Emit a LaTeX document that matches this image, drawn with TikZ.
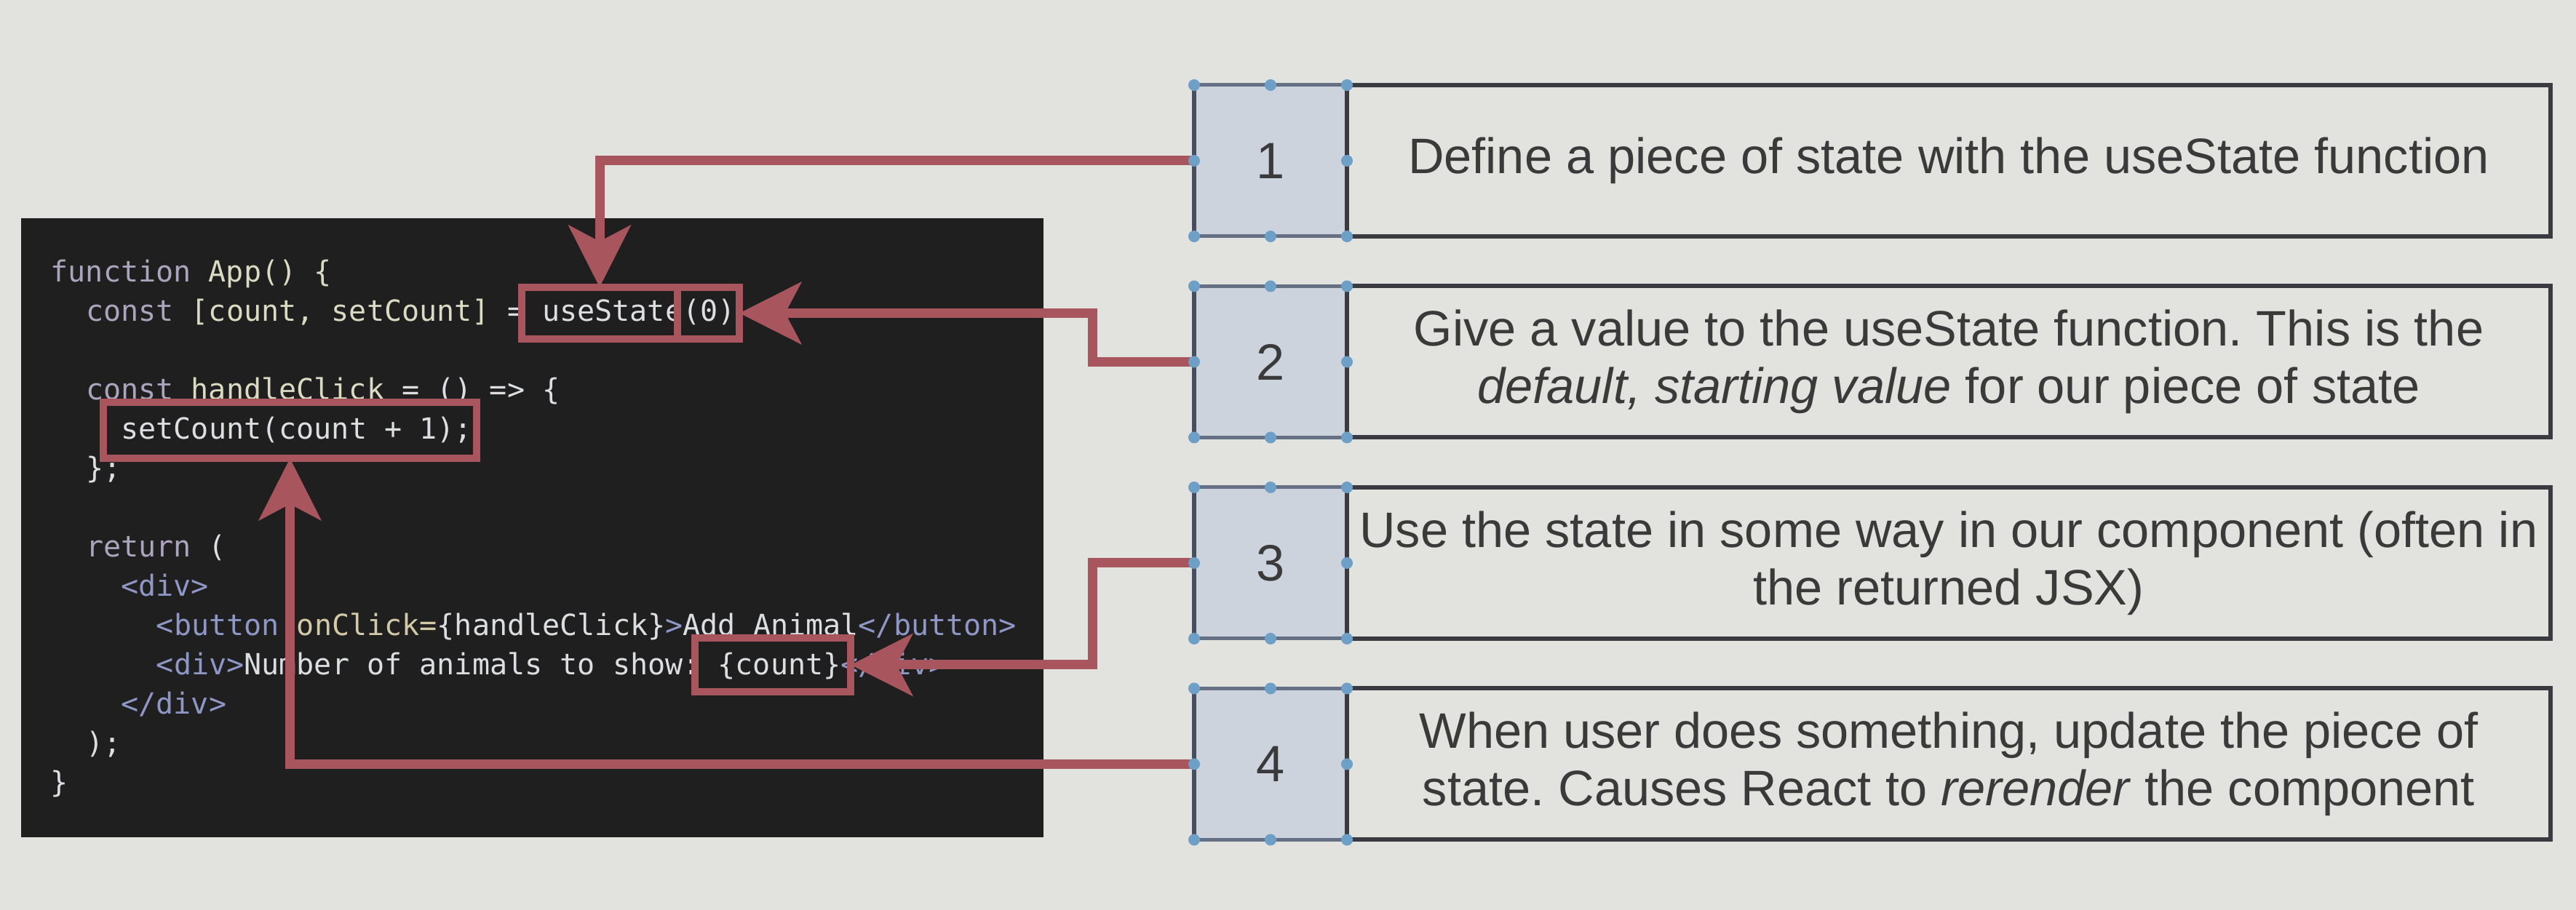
\documentclass[tikz,border=0pt]{standalone}
\usepackage{fontspec}
\setmainfont{Liberation Sans}
\newfontfamily\codefont{DejaVu Sans Mono}
\usetikzlibrary{arrows.meta,positioning}
\frenchspacing

\definecolor{paper}{HTML}{E2E2DF}
\definecolor{codebg}{HTML}{1F1F1F}
\definecolor{hlred}{HTML}{A9555E}
\definecolor{numfill}{HTML}{CDD3DC}
\definecolor{numedge}{HTML}{667085}
\definecolor{handle}{HTML}{6E9FC6}
\definecolor{boxedge}{HTML}{3A3B40}
\definecolor{inktext}{HTML}{3A3A3A}
\definecolor{ckw}{HTML}{ABA4BC}
\definecolor{ctag}{HTML}{8F97C6}
\definecolor{cid}{HTML}{DADBC2}
\definecolor{cplain}{HTML}{DCDEE2}
\definecolor{cattr}{HTML}{D2C9A6}

\newcommand{\kwd}[1]{\textcolor{ckw}{#1}}
\newcommand{\tagc}[1]{\textcolor{ctag}{#1}}
\newcommand{\idc}[1]{\textcolor{cid}{#1}}
\newcommand{\attc}[1]{\textcolor{cattr}{#1}}

\tikzset{
  codeline/.style={anchor=base west, inner sep=0pt, text=cplain,
    font=\codefont\fontsize{11.4}{13}\selectfont},
  hlbox/.style={draw=hlred, line width=0.1cm, inner sep=0pt, outer sep=0pt},
  pointer/.style={draw=hlred, line width=0.13cm,
    -{Stealth[length=0.85cm,width=0.85cm,inset=0.22cm]}},
  numbox/.style={draw=numedge, fill=numfill, line width=0.05cm,
    minimum width=2.1cm, minimum height=2.08cm, inner sep=0pt, outer sep=0pt,
    text=inktext, font=\fontsize{20}{24}\selectfont},
  infobox/.style={draw=boxedge, line width=0.06cm, minimum width=16.54cm,
    minimum height=2.08cm, inner sep=0pt, outer sep=0pt,
    align=center, text=inktext, font=\fontsize{19.5}{22.5}\selectfont},
}

\begin{document}
\begin{tikzpicture}
  \useasboundingbox (0,0) rectangle (35.4,12.51);
  \fill[paper] (0,0) rectangle (35.4,12.51);

  % code panel
  \fill[codebg] (0.29,1.0) rectangle (14.34,9.51);
  \node[codeline] (c0) at (0.69,8.63) {\kwd{function} \idc{App() \{}};
  \node[codeline] (c1) at (1.174,8.09) {\kwd{const} \idc{[count, setCount]} = useState(0)};
  \node[codeline] (c3) at (1.174,7.01) {\kwd{const} \idc{handleClick} = () => \{};
  \node[codeline] (c4) at (1.658,6.47) {setCount(count + 1);};
  \node[codeline] (c5) at (1.174,5.93) {\};};
  \node[codeline] (c7) at (1.174,4.85) {\kwd{return} (};
  \node[codeline] (c8) at (1.658,4.31) {\tagc{<div>}};
  \node[codeline] (c9) at (2.142,3.77) {\tagc{<button} \attc{onClick=}\{handleClick\}\tagc{>}Add Animal\tagc{</button>}};
  \node[codeline] (c10) at (2.142,3.23) {\tagc{<div>}Number of animals to show: \{count\}\tagc{</div>}};
  \node[codeline] (c11) at (1.658,2.69) {\tagc{</div>}};
  \node[codeline] (c12) at (1.174,2.15) {);};
  \node[codeline] (c13) at (0.69,1.61) {\}};

  % highlighted parts of the code
  \node[hlbox, minimum width=2.14cm, minimum height=0.71cm] (usestate) at (8.24,8.205) {};
  \node[hlbox, minimum width=0.85cm, minimum height=0.71cm] (zero) at (9.735,8.205) {};
  \node[hlbox, minimum width=5.13cm, minimum height=0.77cm] (setcount) at (3.985,6.595) {};
  \node[hlbox, minimum width=2.14cm, minimum height=0.74cm] (countref) at (10.62,3.37) {};

  % steps
  \node[numbox] (n1) at (17.46,10.30) {1};
  \node[numbox, below=0.685cm of n1] (n2) {2};
  \node[numbox, below=0.685cm of n2] (n3) {3};
  \node[numbox, below=0.685cm of n3] (n4) {4};
  \foreach \b in {n1,n2,n3,n4}
    \draw[numedge!70!black, line width=0.06cm] (\b.north west) -- (\b.south west);

  \node[infobox, right=0pt of n1] (t1) {Define a piece of state with the useState function};
  \node[infobox, right=0pt of n2] (t2) {Give a value to the useState function. This is the\\
    \textit{default, starting value} for our piece of state};
  \node[infobox, right=0pt of n3] (t3) {Use the state in some way in our component (often in\\
    the returned JSX)};
  \node[infobox, right=0pt of n4] (t4) {When user does something, update the piece of\\
    state. Causes React to \textit{rerender} the component};

  % arrows
  \draw[pointer] (n1.west) -| (usestate.north);
  \draw[pointer] (n2.west) -- ++(-1.4,0) |- (zero.east);
  \draw[pointer] (n3.west) -- ++(-1.4,0) |- (countref.east);
  \draw[pointer] (n4.west) -| (setcount.south);

  % selection handles
  \foreach \b in {n1,n2,n3,n4}
    \foreach \a in {north west,north,north east,west,east,south west,south,south east}
      \fill[handle] (\b.\a) circle (0.08);
\end{tikzpicture}
\end{document}
